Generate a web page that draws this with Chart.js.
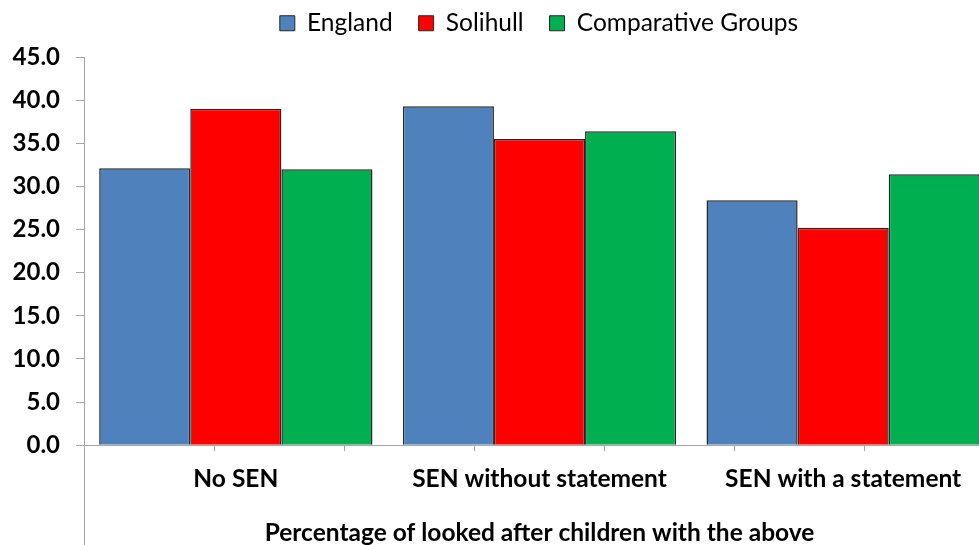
<!DOCTYPE html>
<html>
<head>
<meta charset="utf-8">
<script src="https://cdn.jsdelivr.net/npm/chart.js@4/dist/chart.umd.min.js"></script>
<style>
  html, body { margin: 0; padding: 0; background: #fff; }
  #frame { width: 979px; height: 545px; overflow: hidden; position: relative; }
  #chart { position: absolute; left: 0; top: 0; }
</style>
</head>
<body>
<div id="frame"><canvas id="chart" width="1078" height="548"></canvas></div>
<script>
// categories and series
const categories = ['No SEN', 'SEN without statement', 'SEN with a statement'];
const england = [32.1, 39.3, 28.4];
const solihull = [39.0, 35.5, 25.2];
const comparative = [32.0, 36.4, 31.4];
const seriesNames = ['England', 'Solihull', 'Comparative Groups'];
const yTicks = [0, 5, 10, 15, 20, 25, 30, 35, 40, 45];
const xTitle = 'Percentage of looked after children with the above';

const FONT = 'Lato, "Open Sans", sans-serif';
const AXIS_GREY = '#a6a6a6';
const EDGE = '#262626';

// the value axis line runs on past the plot down to the bottom edge
const axisTail = {
  id: 'axisTail',
  afterDraw(chart) {
    const { ctx, chartArea } = chart;
    const x = Math.round(chartArea.left) + 0.5;
    ctx.save();
    ctx.strokeStyle = AXIS_GREY;
    ctx.lineWidth = 1;
    ctx.beginPath();
    ctx.moveTo(x, chartArea.bottom);
    ctx.lineTo(x, chart.height);
    ctx.stroke();
    ctx.restore();
  }
};

function bars(label, data, color) {
  return {
    label,
    data,
    backgroundColor: color,
    borderColor: EDGE,
    borderWidth: 1.5,
    borderSkipped: 'bottom',
    categoryPercentage: 0.9,
    barPercentage: 1.0
  };
}

// empty boxes used only to hold space around the plot
function spacer(position, size) {
  return {
    type: 'linear',
    position,
    grid: { display: false, drawTicks: false },
    border: { display: false },
    ticks: { display: false },
    afterFit(scale) {
      if (scale.isHorizontal()) scale.height = size;
      else scale.width = size;
    }
  };
}

new Chart(document.getElementById('chart'), {
  type: 'bar',
  data: {
    labels: categories,
    datasets: [
      bars(seriesNames[0], england, '#4f81bd'),
      bars(seriesNames[1], solihull, '#ff0000'),
      bars(seriesNames[2], comparative, '#00b050')
    ]
  },
  options: {
    responsive: false,
    animation: false,
    layout: { padding: { top: -15, right: 0, left: 0, bottom: 0 } },
    plugins: {
      legend: {
        position: 'top',
        labels: {
          font: { family: FONT, size: 24.5 },
          color: '#000',
          boxWidth: 15,
          boxHeight: 15,
          padding: 26,
          generateLabels(chart) {
            return chart.data.datasets.map((ds, i) => ({
              text: ds.label,
              fillStyle: ds.backgroundColor,
              strokeStyle: EDGE,
              lineWidth: 1,
              datasetIndex: i,
              fontColor: '#000'
            }));
          }
        }
      },
      tooltip: { enabled: false }
    },
    scales: {
      // category labels and the axis title
      x: {
        offset: true,
        weight: 1,
        grid: { display: false, drawTicks: false },
        border: { display: false },
        ticks: {
          autoSkip: false,
          maxRotation: 0,
          padding: 13,
          color: '#000',
          font: { family: FONT, size: 24.5, weight: 'bold' }
        },
        title: {
          display: true,
          text: xTitle,
          color: '#000',
          font: { family: FONT, size: 24.5, weight: 'bold' },
          padding: { top: 12, bottom: 0 }
        }
      },
      // axis line with a tick mark every half category
      xTicks: {
        type: 'linear',
        position: 'bottom',
        weight: 0,
        min: -0.5,
        max: categories.length - 0.5,
        grid: {
          display: true,
          drawOnChartArea: false,
          tickLength: 6,
          color: AXIS_GREY
        },
        border: { display: true, color: AXIS_GREY, width: 1 },
        ticks: { display: false, stepSize: 0.5 }
      },
      y: {
        min: yTicks[0],
        max: yTicks[yTicks.length - 1],
        afterFit(scale) { scale.width = 84; },
        afterBuildTicks(scale) {
          scale.ticks = yTicks.map((value) => ({ value }));
        },
        grid: {
          display: true,
          drawOnChartArea: false,
          tickLength: 8,
          color: AXIS_GREY
        },
        border: { display: true, color: AXIS_GREY, width: 1 },
        ticks: {
          padding: 16,
          color: '#000',
          font: { family: FONT, size: 24, weight: 'bold' },
          callback: (v) => Number(v).toFixed(1)
        }
      },
      gapTop: spacer('top', 11.5),
      gapRight: spacer('right', 83)
    }
  },
  plugins: [axisTail]
});
</script>
</body>
</html>
